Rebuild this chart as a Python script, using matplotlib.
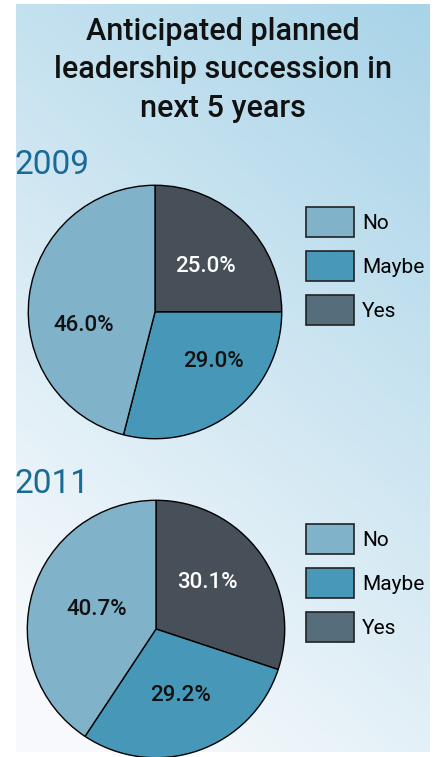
import numpy as np
import matplotlib
matplotlib.use('Agg')
import matplotlib.pyplot as plt
from matplotlib.patches import Patch

plt.rcParams['font.family'] = ['Roboto', 'DejaVu Sans']

title = 'Anticipated planned\nleadership succession in\nnext 5 years'
labels = ['Yes', 'Maybe', 'No']
years = ['2009', '2011']
values = {'2009': [25.0, 29.0, 46.0], '2011': [30.1, 29.2, 40.7]}
legend_order = ['No', 'Maybe', 'Yes']

pie_colors = {'Yes': '#474f58', 'Maybe': '#4798b8', 'No': '#80b2ca'}
legend_colors = {'Yes': '#566e7b', 'Maybe': '#4899b9', 'No': '#80b2ca'}

W, H = 438, 757
fig = plt.figure(figsize=(W / 100, H / 100), dpi=100)
fig.patch.set_facecolor('white')

# gradient panel in the background
bg = fig.add_axes([16 / W, 1 - 752 / H, (430 - 16) / W, (752 - 4) / H])
yy, xx = np.mgrid[0:1:200j, 0:1:100j]
t = np.clip(0.75 * yy + 0.35 * (1 - xx), 0, 1)
top = np.array([0.66, 0.83, 0.91])
bot = np.array([0.97, 0.98, 0.99])
img = top[None, None, :] * (1 - t[..., None]) + bot[None, None, :] * t[..., None]
bg.imshow(img, aspect='auto', extent=[0, 1, 0, 1], origin='upper')
bg.set_axis_off()

fig.text(223 / W, 1 - 70 / H, title, ha='center', va='center', fontsize=22,
         fontweight='medium', linespacing=1.42, color='#111111')

# (center x, center y, radius, year label y, legend top) in pixels
layout = {'2009': (155, 312, 128, 165, 207), '2011': (156, 629, 130, 484, 524)}
# where the percent labels sit, in pie radii
label_pos = {'2009': [(0.40, 0.36), (0.46, -0.39), (-0.56, -0.11)],
             '2011': [(0.40, 0.36), (0.19, -0.52), (-0.46, 0.15)]}

for yr in years:
    cx, cy, r, ty, ly = layout[yr]
    ax = fig.add_axes([(cx - r) / W, 1 - (cy + r) / H, 2 * r / W, 2 * r / H])
    wedges, texts, autotexts = ax.pie(
        values[yr], colors=[pie_colors[l] for l in labels], startangle=90,
        counterclock=False, autopct='%.1f%%', pctdistance=0.55,
        wedgeprops=dict(edgecolor='black', linewidth=1.0),
        textprops=dict(fontsize=16, fontweight='medium'))
    for lab, at, pos in zip(labels, autotexts, label_pos[yr]):
        at.set_color('white' if lab == 'Yes' else '#111111')
        at.set_position(pos)
    ax.set_xlim(-1.01, 1.01)
    ax.set_ylim(-1.01, 1.01)
    ax.set_aspect('equal')

    fig.text(15 / W, 1 - ty / H, yr, ha='left', va='center', fontsize=24,
             color='#1a6a98')

    handles = [Patch(facecolor=legend_colors[l], edgecolor='#222222', linewidth=1.2)
               for l in legend_order]
    fig.legend(handles, legend_order, loc='upper left',
               bbox_to_anchor=(306 / W, 1 - ly / H), frameon=False,
               borderpad=0, borderaxespad=0,
               fontsize=15, handlelength=2.3, handleheight=1.84,
               labelspacing=0.67, handletextpad=0.38)

fig.savefig('out.png', dpi=100)
